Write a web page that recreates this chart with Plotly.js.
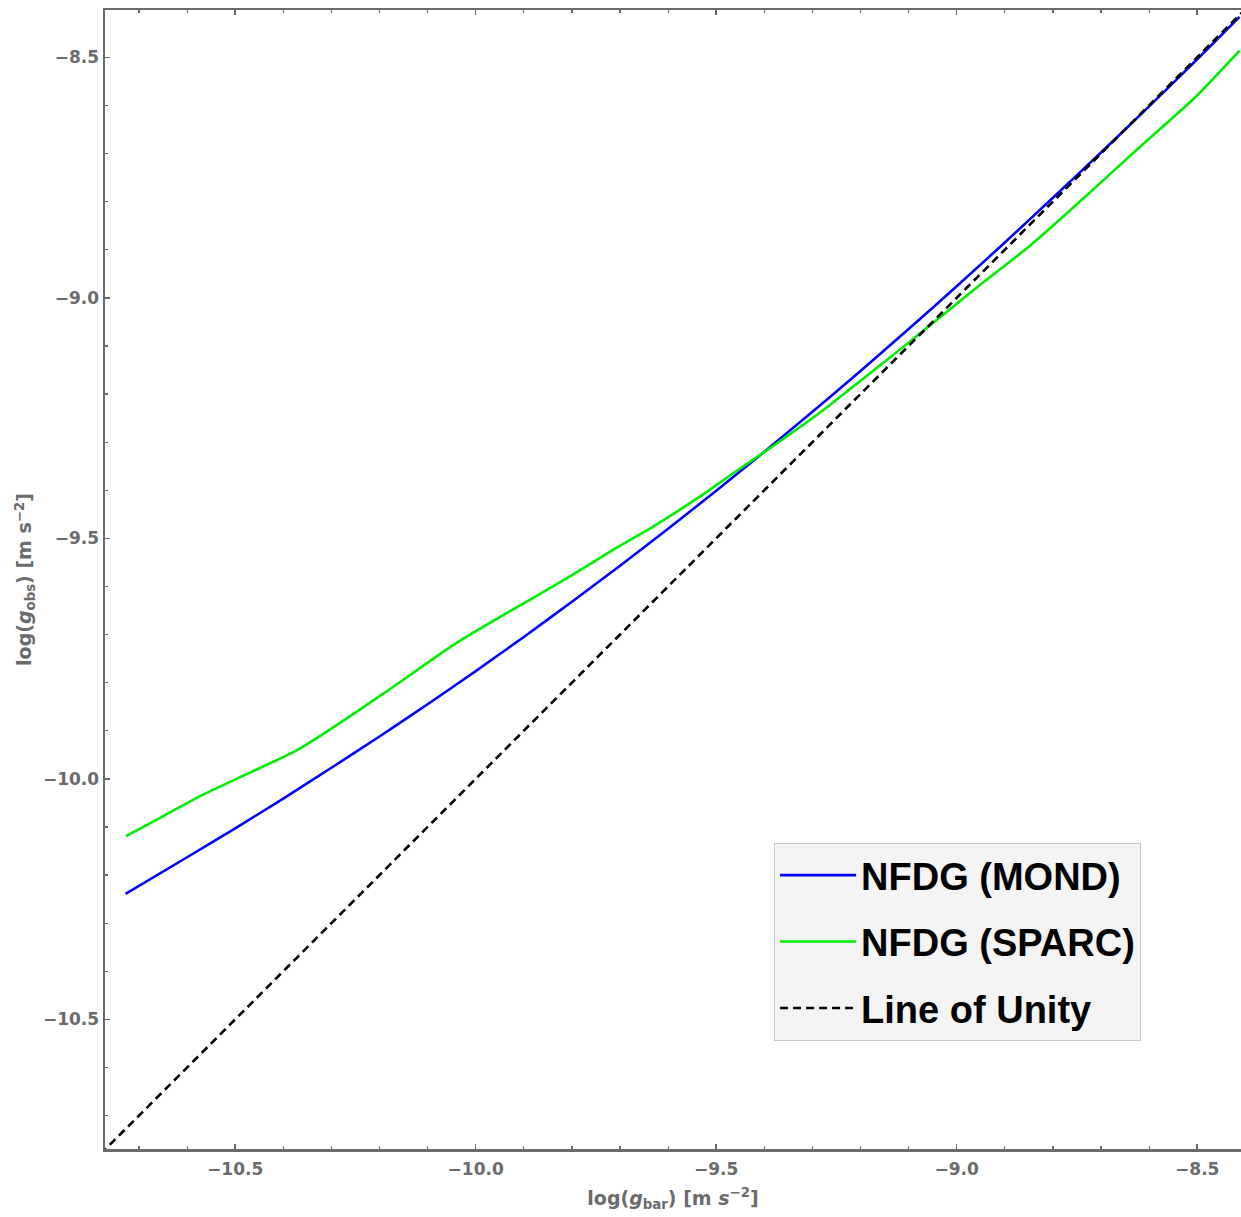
<!DOCTYPE html>
<html>
<head>
<meta charset="utf-8">
<script src="https://cdn.plot.ly/plotly-3.0.1.min.js"></script>
<style>
html,body{margin:0;padding:0;background:#fff;}
#chart{width:1241px;height:1217px;}
</style>
</head>
<body>
<div id="chart"></div>
<script>
// log(g_bar) values and log(g_obs) values
const mondX = [-10.728, -10.6, -10.5, -10.4, -10.3, -10.2, -10.1, -10.0, -9.9, -9.8, -9.7, -9.6, -9.5, -9.4, -9.3, -9.2, -9.1, -9.0, -8.9, -8.8, -8.7, -8.6, -8.5, -8.412];
const mondY = [-10.239, -10.163, -10.103, -10.041, -9.977, -9.912, -9.845, -9.776, -9.705, -9.632, -9.557, -9.480, -9.401, -9.320, -9.237, -9.152, -9.065, -8.976, -8.885, -8.792, -8.698, -8.602, -8.504, -8.416];

const sparcX = [-10.727, -10.656, -10.573, -10.463, -10.380, -10.324, -10.241, -10.172, -10.102, -10.047, -9.992, -9.874, -9.812, -9.708, -9.632, -9.535, -9.458, -9.389, -9.286, -9.150, -9.050, -8.950, -8.849, -8.745, -8.641, -8.503, -8.412];
const sparcY = [-10.119, -10.081, -10.036, -9.984, -9.945, -9.911, -9.856, -9.809, -9.760, -9.722, -9.688, -9.620, -9.584, -9.520, -9.476, -9.414, -9.360, -9.313, -9.240, -9.133, -9.053, -8.972, -8.893, -8.801, -8.706, -8.582, -8.486];

const unityX = [-10.78, -8.40];
const unityY = [-10.78, -8.40];

const seriesNames = ["NFDG (MOND)", "NFDG (SPARC)", "Line of Unity"];
const tickVals = [-10.5, -10.0, -9.5, -9.0, -8.5];
const tickText = ["\u221210.5", "\u221210.0", "\u22129.5", "\u22129.0", "\u22128.5"];

const axisGray = "#6b6b6b";

const traces = [
  {x: mondX, y: mondY, name: seriesNames[0], mode: "lines", legendgroup: "a",
   line: {color: "#0000ff", width: 2.6, shape: "spline", smoothing: 0.5}},
  {x: sparcX, y: sparcY, name: seriesNames[1], mode: "lines", legendgroup: "b",
   line: {color: "#00ee00", width: 2.6, shape: "spline", smoothing: 0.5}},
  {x: unityX, y: unityY, name: seriesNames[2], mode: "lines", legendgroup: "c",
   line: {color: "#000000", width: 2.6, dash: "8px,5px"}}
];

const commonAxis = {
  showline: true, linecolor: axisGray, linewidth: 2.5,
  ticks: "inside", ticklen: 5, tickwidth: 1.5, tickcolor: axisGray,
  tickvals: tickVals, ticktext: tickText,
  tickfont: {family: "DejaVu Sans", size: 17, color: axisGray, weight: "bold"},
  showgrid: false, zeroline: false,
  minor: {dtick: 0.1, ticks: "inside", ticklen: 3, tickwidth: 1.2, tickcolor: axisGray, showgrid: false}
};

const layout = {
  width: 1241, height: 1217,
  margin: {l: 105, r: 0, t: 10, b: 68},
  paper_bgcolor: "#ffffff", plot_bgcolor: "#ffffff",
  showlegend: true,
  xaxis: Object.assign({}, commonAxis, {
    range: [-10.7707, -8.409], mirror: "ticks", ticklabelstandoff: 3,
    tick0: -10.5,
    title: {text: "log(<i>g</i><sub>bar</sub>) [m <i>s</i><sup>\u22122</sup>]",
            font: {family: "DejaVu Sans", size: 19, color: axisGray, weight: "bold"}, standoff: 14}
  }),
  yaxis: Object.assign({}, commonAxis, {
    range: [-10.7695, -8.4017], mirror: false, ticklabelstandoff: 0,
    tick0: -10.5,
    title: {text: "log(<i>g</i><sub>obs</sub>) [m s<sup>\u22122</sup>]",
            font: {family: "DejaVu Sans", size: 19, color: axisGray, weight: "bold"}, standoff: 6}
  }),
  legend: {
    x: 0.589, y: 0.2687, xanchor: "left", yanchor: "top",
    bgcolor: "#f4f4f4", bordercolor: "#c8c8c8", borderwidth: 1,
    font: {family: "Liberation Sans", size: 38, color: "#000000", weight: "bold"},
    tracegroupgap: 14, itemwidth: 76, traceorder: "grouped"
  }
};

Plotly.newPlot("chart", traces, layout, {displayModeBar: false, staticPlot: true});
</script>
</body>
</html>
